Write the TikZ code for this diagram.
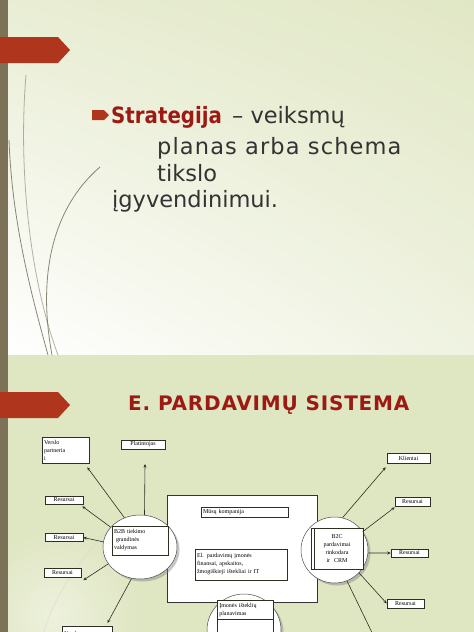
\documentclass[tikz,border=0pt]{standalone}
\usepackage{fontspec}
\usepackage{graphicx}
\usetikzlibrary{shapes.geometric,arrows.meta,shadows,shadings}
\newfontfamily\vfont{DejaVu Sans}
\newfontfamily\vfontsp{DejaVu Sans}[LetterSpace=5]
\newfontfamily\tfont{DejaVu Sans}[LetterSpace=4]
\newfontfamily\dfont{Liberation Serif}
\definecolor{barc}{HTML}{7B7257}
\definecolor{bannerc}{HTML}{B0351D}
\definecolor{titlec}{HTML}{9C1A13}
\definecolor{txtc}{HTML}{333333}
\definecolor{slideg}{HTML}{DFE6C2}
\definecolor{linec}{HTML}{2E2E22}
\definecolor{grassc}{HTML}{6E6953}
\tikzset{
  bx/.style={draw=linec, fill=white, line width=0.5pt, inner sep=2pt,
    font=\dfont\fontsize{6}{8}\selectfont, text=black},
  ell/.style={ellipse, draw=black!70, fill=white, line width=0.5pt, inner sep=0pt,
    drop shadow={shadow xshift=2.5pt, shadow yshift=-2.5pt, fill=black!50, opacity=0.45}},
  arr/.style={draw=linec, line width=0.6pt, -{Stealth[length=3.5pt,width=3pt]}},
  ln/.style={draw=linec, line width=0.6pt},
  grass/.style={draw=grassc, line width=0.8pt},
  bigtxt/.style={anchor=base west, inner sep=0pt, text=txtc, font=\vfont\fontsize{22.5}{27}\selectfont},
  banner/.style={fill=bannerc},
}
\begin{document}
\begin{tikzpicture}[x=1pt,y=-1pt]
\useasboundingbox (0,0) rectangle (474,632);
% ---- top slide background
\shade[upper left=white!30!slideg, upper right=slideg!95, lower left=white, lower right=white!50!slideg] (0,0) rectangle (474,355);
% ---- bottom slide background
\fill[slideg] (0,355) rectangle (474,632);
\shade[inner color=white!45!slideg, outer color=slideg] (55,615) circle (85);
\fill[slideg] (0,355) rectangle (474,420);
% ---- left bar
\fill[barc] (0,0) rectangle (8,632);
% ---- grass curves top slide
\draw[grass, opacity=0.8] (48,355) .. controls (30,290) and (12,220) .. (9,140);
\draw[grass, opacity=0.5] (58,355) .. controls (30,280) and (18,170) .. (26,75);
\draw[grass, opacity=0.8] (52,355) .. controls (38,280) and (50,210) .. (100,167);
% ---- faint curves bottom slide
\draw[white!70!gray, line width=0.6pt, opacity=0.7] (112,525) .. controls (80,560) and (50,600) .. (42,640);
% ---- banners
\fill[banner] (0,37) -- (58,37) -- (70,50) -- (58,63) -- (0,63) -- cycle;
\fill[banner] (0,392) -- (58,392) -- (70,405) -- (58,418) -- (0,418) -- cycle;
% ---- top slide text
\fill[banner] (92,110) -- (104,110) -- (109,115) -- (104,120) -- (92,120) -- cycle;
\node[bigtxt, text=titlec, font=\vfont\bfseries\fontsize{22.5}{27}\selectfont] (strat) at (111,123) {\scalebox{0.88}[1]{Strategija}};
\node[bigtxt] (l1) at (232,123) {– veiksmų};
\node[bigtxt, font=\vfontsp\fontsize{22.5}{27}\selectfont] (l2) at (157,154) {planas arba schema};
\node[bigtxt] (l3) at (157,181) {tikslo};
\node[bigtxt] (l4) at (112,207) {įgyvendinimui.};
% ---- title bottom slide
\node[anchor=base west, inner sep=0pt, text=titlec, font=\tfont\bfseries\fontsize{20}{24}\selectfont] (title) at (128,410) {E. PARDAVIMŲ SISTEMA};
% ---- central company box
\node[draw=black!80, fill=white, line width=0.5pt, minimum width=150pt, minimum height=107pt, inner sep=0pt] (comp) at (242,548.5) {};
\node[bx, minimum width=87pt, minimum height=10pt, text width=83pt, align=left] (musu) at (244.5,512) {Mūsų kompanija};
\node[bx, minimum width=92pt, minimum height=31pt, text width=88pt, align=left] (elp) at (241,564.5) {El. pardavimų įmonės\\finansai, apskaitos,\\žmogiškieji ištekliai ir IT};
% ---- B2B
\node[ell, minimum width=74pt, minimum height=64pt] (b2b) at (140,547) {};
\node[bx, minimum width=56pt, minimum height=29pt, text width=52pt, align=left] (b2bt) at (140,540.5) {B2B tiekimo\\\ grandinės\\valdymas};
% ---- B2C
\node[ell, minimum width=67pt, minimum height=66pt] (b2c) at (334.5,550) {};
\node[bx, minimum width=52pt, minimum height=41pt, text width=48pt, align=center] (b2ct) at (337,548.5) {B2C\\pardavimai\\rinkodara\\ir\ \ CRM};
\draw[linec, line width=0.4pt] ([xshift=3pt]b2ct.north west) -- ([xshift=3pt]b2ct.south west);
% ---- bottom circle
\node[ell, minimum width=74pt, minimum height=72pt] (imon) at (244,630) {};
\node[bx, minimum width=56pt, minimum height=19pt, text width=52pt, align=left, anchor=north west] (imont) at (217,600) {Įmonės išteklių\\planavimas};
\node[bx, minimum width=56pt, minimum height=22pt, anchor=north west] (imonb) at (217,619) {};
% ---- left boxes
\node[bx, minimum width=47pt, minimum height=26pt, text width=43pt, align=left] (vers) at (65.5,450) {Verslo\\partneria\\i};
\node[bx, minimum width=44pt, minimum height=9pt, inner sep=0pt] (plat) at (143,444.5) {Platintojas};
\node[bx, minimum width=38pt, minimum height=8pt, inner sep=0pt] (rl1) at (64,500) {Resursai};
\node[bx, minimum width=38pt, minimum height=8pt, inner sep=0pt] (rl2) at (64,537.5) {Resursai};
\node[bx, minimum width=37pt, minimum height=9pt, inner sep=0pt] (rl3) at (62.5,572.5) {Resursai};
\node[bx, minimum width=50pt, minimum height=14pt, text width=46pt, align=left, anchor=north west] (bv) at (62,626) {Verslo};
% ---- right boxes
\node[bx, minimum width=43pt, minimum height=10pt, inner sep=0pt] (kl) at (408.5,458) {Klientai};
\node[bx, minimum width=35pt, minimum height=9pt, inner sep=0pt] (rr1) at (412.5,501.5) {Resursai};
\node[bx, minimum width=37pt, minimum height=8pt, inner sep=0pt] (rr2) at (409.5,553) {Resursai};
\node[bx, minimum width=37pt, minimum height=9pt, inner sep=0pt] (rr3) at (405.5,603.5) {Resursai};
% ---- connectors left
\coordinate (platend) at (145,464);
\draw[arr] (b2b.118) -- ([xshift=-2pt,yshift=-4pt]vers.south east);
\draw[arr] (b2b.82) -- (platend);
\draw[arr] (b2b.146) -- ([xshift=-1pt,yshift=-2pt]rl1.south east);
\draw[arr] (b2b.172) -- (rl2.east);
\draw[arr] (b2b.208) -- ([xshift=2pt,yshift=-3pt]rl3.south east);
\draw[arr] (b2b.255) -- ([xshift=-5pt,yshift=3pt]bv.north east);
% ---- connectors right
\draw[arr] (b2c.76) -- ([xshift=-1pt,yshift=-4pt]kl.south west);
\draw[arr] (b2c.33) -- ([yshift=-1pt]rr1.south west);
\draw[arr] (b2c.355) -- (rr2.west);
\draw[arr] (b2c.317) -- (rr3.west);
\coordinate (b2cend) at (378,645);
\draw[ln] (b2c.292) -- (b2cend);
\end{tikzpicture}
\end{document}
